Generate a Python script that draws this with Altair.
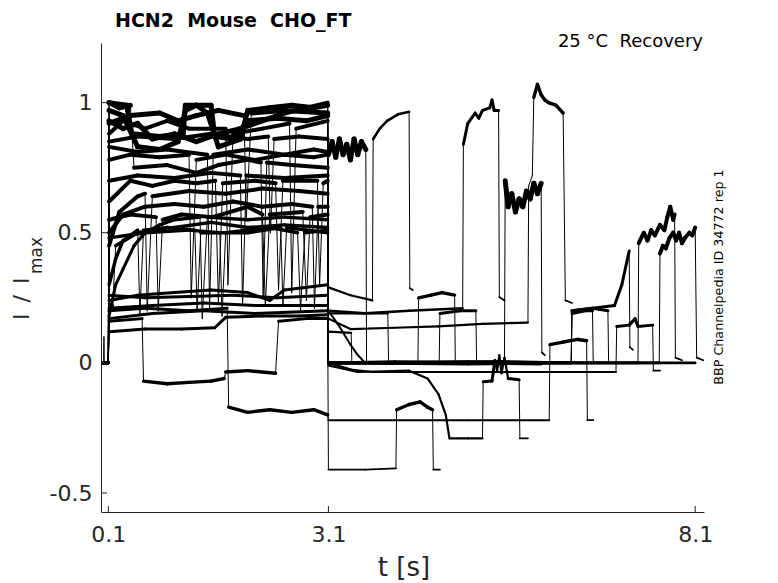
import altair as alt
import pandas as pd

# ---------------- axes / labels ----------------
X_TICKS = [0.1, 3.1, 8.1]
Y_TICKS = [-0.5, 0, 0.5, 1]
X_DOMAIN = [0.0, 8.22]
Y_DOMAIN = [-0.573, 1.229]
NB = "\u00a0"
TITLE = f"HCN2{NB}{NB}Mouse{NB}{NB}CHO_FT"
SUBTITLE = f"25{NB}°C{NB}{NB}Recovery"
SIDE_NOTE = "BBP Channelpedia ID 34772 rep 1"
X_TITLE = "t [s]"
Y_TITLE_MAIN = "I\u2002/\u2002I"
Y_TITLE_SUB = "max"

# ---------------- traces: (t [s], I/Imax, noise band width [I/Imax]) ----------------
PRE = [(0.0, 0.0, 0.008), (0.1, 0.0, 0.0)]
PRE_SPIKE = [(0.0, 0.0, 0.008), (0.035, 0.0, 0.0), (0.04, 0.1, 0.0), (0.045, 0.0, 0.008), (0.1, 0.0, 0.0)]

TRACE_01 = [(0.11, 0.93, 0.02), (0.3, 0.9, 0.02), (0.5, 0.92, 0.02), (0.7, 0.86, 0.02), (1.0, 0.88, 0.02),
            (1.3, 0.85, 0.02), (1.6, 0.88, 0.02), (1.9, 0.9, 0.02), (2.2, 0.93, 0.02), (2.5, 0.96, 0.02),
            (2.8, 0.98, 0.015), (3.09, 1.0, 0.0), (3.1, 0.8, 0.02), (3.15, 0.85, 0.02), (3.2, 0.79, 0.02),
            (3.25, 0.86, 0.02), (3.3, 0.8, 0.02), (3.35, 0.84, 0.02), (3.4, 0.78, 0.02), (3.45, 0.86, 0.02),
            (3.5, 0.8, 0.02), (3.55, 0.85, 0.02), (3.61, 0.82, 0.0), (3.62, 0.0, 0.006), (4.0, 0.0, 0.0)]
TRACE_02 = [(0.11, 0.78, 0.015), (0.4, 0.8, 0.015), (0.8, 0.79, 0.015), (1.2, 0.8, 0.0), (1.23, 0.25, 0.0),
            (1.3, 0.78, 0.015), (1.7, 0.8, 0.015), (2.1, 0.78, 0.015), (2.5, 0.8, 0.015), (2.9, 0.79, 0.015),
            (3.09, 0.8, 0.0), (3.1, 0.29, 0.006), (3.4, 0.26, 0.006), (3.7, 0.24, 0.0), (3.71, 0.86, 0.008),
            (3.8, 0.9, 0.008), (3.9, 0.93, 0.008), (4.05, 0.955, 0.008), (4.2, 0.965, 0.0), (4.21, 0.287, 0.004),
            (4.25, 0.28, 0.0)]
TRACE_03 = [(0.11, 0.5, 0.015), (0.3, 0.57, 0.015), (0.6, 0.6, 0.015), (1.0, 0.61, 0.015), (1.4, 0.6, 0.015),
            (1.8, 0.62, 0.015), (2.2, 0.6, 0.015), (2.6, 0.61, 0.015), (2.88, 0.6, 0.0), (2.91, 0.21, 0.0),
            (2.96, 0.6, 0.015), (3.09, 0.6, 0.0), (3.1, 0.2, 0.008), (3.6, 0.19, 0.008), (4.2, 0.2, 0.008),
            (4.93, 0.21, 0.0), (4.94, 0.84, 0.01), (5.0, 0.92, 0.01), (5.1, 0.96, 0.01), (5.15, 0.94, 0.01),
            (5.2, 0.97, 0.01), (5.3, 0.98, 0.01), (5.33, 1.01, 0.01), (5.36, 0.97, 0.01), (5.42, 0.97, 0.0),
            (5.43, 0.253, 0.004), (5.5, 0.24, 0.0)]
TRACE_04 = [(0.11, 1.0, 0.02), (0.35, 0.99, 0.02), (0.42, 0.88, 0.02), (0.8, 0.87, 0.02), (1.12, 0.88, 0.02),
            (1.15, 0.99, 0.02), (1.5, 0.99, 0.02), (1.55, 0.87, 0.02), (1.8, 0.86, 0.02), (2.0, 0.93, 0.02),
            (2.4, 0.94, 0.02), (2.8, 0.93, 0.02), (3.09, 0.95, 0.0), (3.1, 0.0, 0.008), (4.0, 0.005, 0.008),
            (5.0, 0.0, 0.008), (5.5, 0.0, 0.0), (5.51, 0.7, 0.02), (5.55, 0.6, 0.02), (5.6, 0.65, 0.02),
            (5.65, 0.58, 0.02), (5.7, 0.63, 0.02), (5.75, 0.6, 0.02), (5.8, 0.66, 0.02), (5.85, 0.63, 0.02),
            (5.9, 0.69, 0.02), (5.95, 0.65, 0.02), (6.0, 0.69, 0.0), (6.01, 0.04, 0.004), (6.05, 0.03, 0.0)]
TRACE_05 = [(0.11, 0.24, 0.01), (0.5, 0.26, 0.01), (1.0, 0.27, 0.01), (1.5, 0.28, 0.01), (2.0, 0.27, 0.01),
            (2.3, 0.24, 0.01), (2.5, 0.28, 0.01), (3.09, 0.3, 0.0), (3.1, 0.17, 0.006), (3.4, 0.13, 0.006),
            (4.0, 0.135, 0.006), (4.6, 0.14, 0.006), (5.2, 0.15, 0.006), (5.82, 0.155, 0.0), (5.83, 0.68, 0.0),
            (5.88, 0.72, 0.0), (5.9, 1.02, 0.012), (5.95, 1.07, 0.012), (6.0, 1.03, 0.012), (6.05, 1.01, 0.012),
            (6.1, 1.0, 0.012), (6.2, 0.99, 0.012), (6.3, 0.96, 0.0), (6.33, 0.24, 0.004), (6.42, 0.23, 0.0)]
TRACE_06 = [(0.11, 0.2, 0.01), (0.6, 0.21, 0.01), (1.2, 0.2, 0.01), (1.72, 0.21, 0.0), (1.74, -0.17, 0.012),
            (2.0, -0.19, 0.012), (2.3, -0.18, 0.012), (2.6, -0.19, 0.012), (2.9, -0.18, 0.012), (3.09, -0.2, 0.0),
            (3.1, -0.22, 0.005), (4.0, -0.22, 0.005), (5.0, -0.22, 0.005), (6.11, -0.22, 0.0), (6.12, 0.07, 0.012),
            (6.3, 0.08, 0.012), (6.5, 0.09, 0.012), (6.62, 0.085, 0.0), (6.63, -0.22, 0.004), (6.71, -0.22, 0.0)]
TRACE_07 = [(0.11, 0.16, 0.01), (0.56, 0.17, 0.0), (0.58, -0.07, 0.012), (0.9, -0.08, 0.012), (1.2, -0.075, 0.012),
            (1.5, -0.07, 0.012), (1.68, -0.06, 0.0), (1.7, -0.035, 0.012), (2.0, -0.03, 0.012), (2.38, -0.04, 0.0),
            (2.42, 0.16, 0.01), (2.8, 0.17, 0.01), (3.09, 0.17, 0.0), (3.1, -0.41, 0.004), (3.6, -0.41, 0.004),
            (4.02, -0.405, 0.0), (4.03, -0.18, 0.012), (4.2, -0.16, 0.012), (4.35, -0.15, 0.012), (4.45, -0.17, 0.012),
            (4.52, -0.18, 0.0), (4.53, -0.41, 0.004), (4.62, -0.41, 0.0)]
TRACE_08 = [(0.11, 0.21, 0.01), (0.7, 0.22, 0.01), (1.4, 0.23, 0.01), (2.1, 0.22, 0.01), (3.09, 0.22, 0.0),
            (3.1, -0.01, 0.006), (3.5, -0.035, 0.006), (4.2, -0.03, 0.006), (4.45, -0.06, 0.006), (4.6, -0.12, 0.006),
            (4.7, -0.2, 0.006), (4.75, -0.29, 0.006), (5.0, -0.29, 0.006), (5.2, -0.29, 0.0), (5.21, -0.073, 0.01),
            (5.33, -0.07, 0.01), (5.37, 0.01, 0.006), (5.4, -0.03, 0.006), (5.43, 0.03, 0.006), (5.46, -0.04, 0.006),
            (5.5, 0.02, 0.006), (5.55, -0.06, 0.01), (5.7, -0.065, 0.0), (5.71, -0.29, 0.004), (5.82, -0.29, 0.0)]
TRACE_09 = [(0.11, 0.3, 0.012), (0.2, 0.4, 0.012), (0.3, 0.47, 0.012), (0.5, 0.51, 0.0), (0.53, 0.19, 0.0),
            (0.58, 0.51, 0.012), (1.0, 0.52, 0.012), (1.5, 0.54, 0.012), (2.0, 0.52, 0.012), (2.5, 0.53, 0.012),
            (3.09, 0.52, 0.0), (3.1, 0.2, 0.005), (3.25, 0.14, 0.005), (3.4, 0.07, 0.005), (3.5, 0.03, 0.005),
            (3.6, 0.0, 0.008), (5.0, 0.0, 0.008), (6.0, -0.005, 0.0)]
TRACE_10 = [(0.11, 0.7, 0.015), (0.5, 0.72, 0.015), (1.0, 0.71, 0.015), (1.5, 0.73, 0.015), (1.9, 0.72, 0.0),
            (1.93, 0.22, 0.0), (1.98, 0.72, 0.015), (2.5, 0.71, 0.015), (3.09, 0.72, 0.0), (3.1, 0.19, 0.006),
            (3.5, 0.19, 0.006), (3.91, 0.19, 0.0), (3.92, 0.0, 0.006), (4.5, 0.0, 0.0)]
TRACE_11 = [(0.11, 0.12, 0.01), (0.6, 0.13, 0.01), (1.1, 0.13, 0.01), (1.55, 0.135, 0.01), (1.7, 0.175, 0.01),
            (2.2, 0.18, 0.01), (2.7, 0.18, 0.01), (3.09, 0.185, 0.0), (3.1, 0.12, 0.006), (3.41, 0.115, 0.0),
            (3.42, 0.0, 0.006), (4.5, 0.0, 0.0)]
TRACE_12 = [(0.11, 0.85, 0.015), (0.5, 0.87, 0.015), (1.0, 0.86, 0.015), (1.5, 0.88, 0.015), (2.0, 0.86, 0.015),
            (2.28, 0.87, 0.0), (2.31, 0.5, 0.0), (2.36, 0.86, 0.015), (2.7, 0.87, 0.015), (3.09, 0.86, 0.0),
            (3.1, 0.0, 0.008), (4.32, 0.0, 0.0), (4.33, 0.25, 0.012), (4.5, 0.26, 0.012), (4.65, 0.27, 0.012),
            (4.82, 0.26, 0.0), (4.83, 0.0, 0.008), (5.5, 0.005, 0.0)]
TRACE_13 = [(0.11, 0.45, 0.015), (0.25, 0.58, 0.015), (0.5, 0.64, 0.015), (0.6, 0.65, 0.0), (0.63, 0.2, 0.0),
            (0.7, 0.64, 0.015), (1.2, 0.66, 0.015), (1.7, 0.65, 0.015), (2.2, 0.67, 0.015), (2.7, 0.66, 0.015),
            (3.09, 0.65, 0.0), (3.1, 0.0, 0.008), (4.61, 0.0, 0.0), (4.62, 0.19, 0.01), (4.9, 0.2, 0.01),
            (5.11, 0.2, 0.0), (5.12, 0.0, 0.008), (6.0, 0.0, 0.0)]
TRACE_14 = [(0.11, 0.48, 0.012), (0.6, 0.5, 0.012), (1.2, 0.51, 0.012), (1.62, 0.5, 0.0), (1.65, 0.18, 0.0),
            (1.7, 0.5, 0.012), (2.3, 0.52, 0.012), (2.68, 0.5, 0.0), (2.72, 0.2, 0.0), (2.78, 0.5, 0.012),
            (3.09, 0.51, 0.0), (3.1, 0.0, 0.008), (5.0, -0.005, 0.008), (6.41, 0.0, 0.0), (6.42, 0.19, 0.01),
            (6.6, 0.2, 0.01), (6.7, 0.2, 0.0), (6.71, 0.0, 0.004), (6.75, 0.0, 0.0)]
TRACE_15 = [(0.11, 0.18, 0.01), (0.2, 0.3, 0.01), (0.3, 0.36, 0.01), (0.45, 0.45, 0.012), (0.6, 0.5, 0.012),
            (0.8, 0.53, 0.012), (1.0, 0.55, 0.012), (1.35, 0.56, 0.0), (1.38, 0.17, 0.0), (1.45, 0.56, 0.012),
            (2.0, 0.55, 0.012), (2.5, 0.56, 0.012), (3.09, 0.55, 0.0), (3.1, 0.0, 0.008), (5.5, 0.005, 0.008),
            (6.41, 0.0, 0.0), (6.42, 0.2, 0.01), (6.7, 0.21, 0.01), (6.91, 0.2, 0.0), (6.92, 0.0, 0.004),
            (6.96, 0.0, 0.0)]
TRACE_16 = [(0.11, 1.0, 0.02), (0.25, 0.98, 0.02), (0.4, 0.99, 0.0), (0.45, 0.75, 0.015), (0.9, 0.76, 0.015),
            (1.3, 0.73, 0.015), (1.6, 0.76, 0.015), (2.0, 0.78, 0.015), (2.18, 0.77, 0.0), (2.21, 0.25, 0.0),
            (2.26, 0.77, 0.015), (2.6, 0.76, 0.015), (3.09, 0.75, 0.0), (3.1, 0.0, 0.008), (6.41, 0.0, 0.0),
            (6.42, 0.2, 0.01), (6.7, 0.21, 0.01), (7.0, 0.22, 0.01), (7.1, 0.3, 0.01), (7.2, 0.43, 0.0),
            (7.21, 0.06, 0.004), (7.25, 0.05, 0.0)]
TRACE_17 = [(0.11, 0.26, 0.01), (0.6, 0.25, 0.01), (1.2, 0.255, 0.01), (1.8, 0.26, 0.01), (2.4, 0.25, 0.01),
            (3.09, 0.26, 0.0), (3.1, 0.0, 0.006), (3.4, -0.025, 0.004), (3.7, -0.035, 0.004), (5.0, -0.035, 0.004),
            (6.0, -0.035, 0.004), (7.02, -0.035, 0.0), (7.03, 0.14, 0.01), (7.2, 0.145, 0.01), (7.28, 0.17, 0.01),
            (7.32, 0.14, 0.01), (7.52, 0.145, 0.0), (7.53, -0.03, 0.004), (7.62, -0.03, 0.0)]
TRACE_18 = [(0.11, 0.92, 0.02), (0.4, 0.95, 0.02), (0.8, 0.96, 0.02), (1.05, 0.93, 0.02), (1.3, 0.95, 0.02),
            (1.6, 0.97, 0.02), (1.95, 0.95, 0.0), (1.98, 0.55, 0.0), (2.05, 0.96, 0.02), (2.5, 0.97, 0.02),
            (3.09, 0.96, 0.0), (3.1, 0.0, 0.008), (7.32, 0.0, 0.0), (7.33, 0.46, 0.015), (7.4, 0.5, 0.015),
            (7.45, 0.47, 0.015), (7.5, 0.51, 0.015), (7.55, 0.49, 0.015), (7.62, 0.53, 0.015), (7.68, 0.51, 0.015),
            (7.72, 0.56, 0.015), (7.76, 0.6, 0.015), (7.8, 0.55, 0.015), (7.82, 0.57, 0.0), (7.83, 0.02, 0.004),
            (7.92, 0.01, 0.0)]
TRACE_19 = [(0.11, 0.83, 0.015), (0.5, 0.81, 0.015), (0.9, 0.82, 0.015), (1.45, 0.8, 0.0), (1.48, 0.2, 0.0),
            (1.53, 0.8, 0.015), (2.0, 0.82, 0.015), (2.5, 0.8, 0.015), (2.9, 0.82, 0.015), (3.09, 0.81, 0.0),
            (3.1, 0.0, 0.008), (7.61, 0.0, 0.0), (7.62, 0.42, 0.015), (7.66, 0.45, 0.015), (7.7, 0.44, 0.015),
            (7.75, 0.48, 0.015), (7.8, 0.5, 0.015), (7.84, 0.47, 0.015), (7.88, 0.5, 0.015), (7.92, 0.46, 0.015),
            (7.96, 0.48, 0.015), (8.02, 0.5, 0.015), (8.06, 0.49, 0.015), (8.1, 0.52, 0.0), (8.12, 0.02, 0.004),
            (8.21, 0.01, 0.0)]
TRACE_20 = [(0.11, 0.17, 0.01), (0.7, 0.19, 0.01), (1.4, 0.2, 0.01), (2.1, 0.19, 0.01), (3.09, 0.2, 0.0),
            (3.1, 0.0, 0.008), (5.0, 0.005, 0.008), (6.5, 0.0, 0.008), (8.1, 0.0, 0.0)]
TRACE_21 = [(0.11, 0.97, 0.02), (0.3, 0.95, 0.02), (0.5, 0.83, 0.02), (0.8, 0.82, 0.02), (1.05, 0.85, 0.02),
            (1.15, 0.97, 0.02), (1.3, 0.99, 0.02), (1.45, 0.96, 0.02), (1.6, 0.83, 0.02), (1.9, 0.86, 0.02),
            (2.0, 0.97, 0.02), (2.3, 0.98, 0.02), (2.6, 0.99, 0.02), (2.9, 0.98, 0.02), (3.09, 0.99, 0.0),
            (3.1, 0.0, 0.006), (3.6, 0.0, 0.0)]
TRACE_22 = [(0.11, 0.2, 0.01), (0.16, 0.22, 0.0), (0.2, 0.45, 0.012), (0.5, 0.5, 0.012), (0.9, 0.52, 0.012),
            (1.28, 0.51, 0.0), (1.31, 0.2, 0.0), (1.36, 0.5, 0.012), (2.0, 0.5, 0.012), (2.45, 0.52, 0.0),
            (2.48, 0.22, 0.0), (2.53, 0.52, 0.012), (3.09, 0.5, 0.0), (3.1, 0.0, 0.006), (3.5, 0.0, 0.0)]
TRACE_23 = [(0.11, 0.88, 0.015), (0.3, 0.93, 0.015), (0.6, 0.9, 0.015), (0.9, 0.93, 0.015), (1.2, 0.9, 0.015),
            (1.7, 0.9, 0.0), (1.73, 0.3, 0.0), (1.8, 0.88, 0.015), (2.2, 0.9, 0.015), (2.57, 0.92, 0.0),
            (2.6, 0.27, 0.0), (2.66, 0.9, 0.015), (3.09, 0.93, 0.0), (3.1, 0.0, 0.006), (3.7, 0.0, 0.0)]
TRACE_24 = [(0.11, 0.62, 0.015), (0.4, 0.7, 0.015), (0.7, 0.68, 0.015), (1.0, 0.7, 0.015), (1.3, 0.69, 0.015),
            (1.56, 0.7, 0.0), (1.6, 0.23, 0.0), (1.66, 0.69, 0.015), (2.1, 0.7, 0.015), (2.38, 0.69, 0.0),
            (2.42, 0.28, 0.0), (2.48, 0.7, 0.015), (2.95, 0.7, 0.0), (2.98, 0.3, 0.0), (3.03, 0.69, 0.015),
            (3.09, 0.7, 0.0), (3.1, 0.0, 0.006), (3.8, 0.0, 0.0)]
TRACE_25 = [(0.11, 0.55, 0.015), (0.4, 0.57, 0.015), (0.75, 0.56, 0.0), (0.78, 0.2, 0.0), (0.84, 0.55, 0.015),
            (1.1, 0.57, 0.015), (1.52, 0.56, 0.015), (2.0, 0.6, 0.015), (2.2, 0.57, 0.0), (2.24, 0.22, 0.0),
            (2.3, 0.57, 0.015), (2.75, 0.58, 0.0), (2.8, 0.24, 0.0), (2.85, 0.56, 0.015), (3.09, 0.57, 0.0),
            (3.1, 0.0, 0.006), (4.2, 0.0, 0.0)]

TRACES = [TRACE_01, TRACE_02, TRACE_03, TRACE_04, TRACE_05, TRACE_06, TRACE_07, TRACE_08, TRACE_09, TRACE_10,
          TRACE_11, TRACE_12, TRACE_13, TRACE_14, TRACE_15, TRACE_16, TRACE_17, TRACE_18, TRACE_19, TRACE_20,
          TRACE_21, TRACE_22, TRACE_23, TRACE_24, TRACE_25]

rows = []
for i, tr in enumerate(TRACES):
    pts = (PRE_SPIKE if i == 0 else PRE) + tr
    for (t0, v0, b0), (t1, v1, _) in zip(pts[:-1], pts[1:]):
        rows.append({"trace": i, "t": t0, "v": v0, "t2": t1, "v2": v1, "band": b0})
seg = pd.DataFrame(rows)

W, H = 603, 469
AX = "#262626"
FONT = "DejaVu Sans"

xscale = alt.Scale(domain=X_DOMAIN, nice=False, zero=False)
yscale = alt.Scale(domain=Y_DOMAIN, nice=False, zero=False)

xaxis = alt.Axis(values=X_TICKS, format=".1f", title=None, ticks=False, grid=False,
                 labelFontSize=22, labelPadding=12, labelColor=AX, domainColor=AX, domainWidth=1,
                 labelFont=FONT)
yaxis = alt.Axis(values=Y_TICKS, title=None, ticks=False, grid=False,
                 labelExpr="datum.value < 0 ? '-' + format(-datum.value, '~g') : format(datum.value, '~g')",
                 labelFontSize=22, labelPadding=9, labelColor=AX, domainColor=AX, domainWidth=1,
                 labelFont=FONT)

traces = alt.Chart(seg).mark_rule(color="black", strokeCap="round", clip=True).encode(
    x=alt.X("t:Q", scale=xscale, axis=xaxis),
    x2="t2:Q",
    y=alt.Y("v:Q", scale=yscale, axis=yaxis),
    y2="v2:Q",
    strokeWidth=alt.StrokeWidth("band:Q", scale=alt.Scale(domain=[0, 0.05], range=[1, 11]), legend=None),
    detail="trace:N",
)

xt = alt.Chart(pd.DataFrame({"t": X_TICKS})).mark_rule(color=AX, strokeWidth=1).encode(
    x=alt.X("t:Q", scale=xscale), y=alt.value(H), y2=alt.value(H - 6))
yt = alt.Chart(pd.DataFrame({"v": Y_TICKS})).mark_rule(color=AX, strokeWidth=1).encode(
    y=alt.Y("v:Q", scale=yscale), x=alt.value(0), x2=alt.value(6))


def label(txt, x, y, size, align="left", angle=0, weight="normal", color=AX):
    return alt.Chart(pd.DataFrame({"s": [txt]})).mark_text(
        align=align, baseline="alphabetic", fontSize=size, font=FONT, fontWeight=weight,
        angle=angle, color=color).encode(text="s:N", x=alt.value(x), y=alt.value(y))


layers = [
    traces, xt, yt,
    label(TITLE, 14, -16, 19, weight="bold", color="black"),
    label(SUBTITLE, 602, 4, 18, align="right", color="black"),
    label(SIDE_NOTE, 622, 234, 12.7, align="center", angle=270, color="black"),
    label(X_TITLE, 303, 533, 26, align="center"),
    label(Y_TITLE_MAIN, -72, 277, 22, angle=270),
    label(Y_TITLE_SUB, -59, 231, 17, angle=270),
]

chart = alt.layer(*layers).properties(
    width=W, height=H,
    padding={"left": 93, "top": 35, "right": 60, "bottom": 70},
    autosize=alt.AutoSizeParams(type="none"),
).configure(font=FONT).configure_view(stroke=None, strokeWidth=0)

chart.save("out.html", embed_options={"renderer": "svg", "actions": False})
